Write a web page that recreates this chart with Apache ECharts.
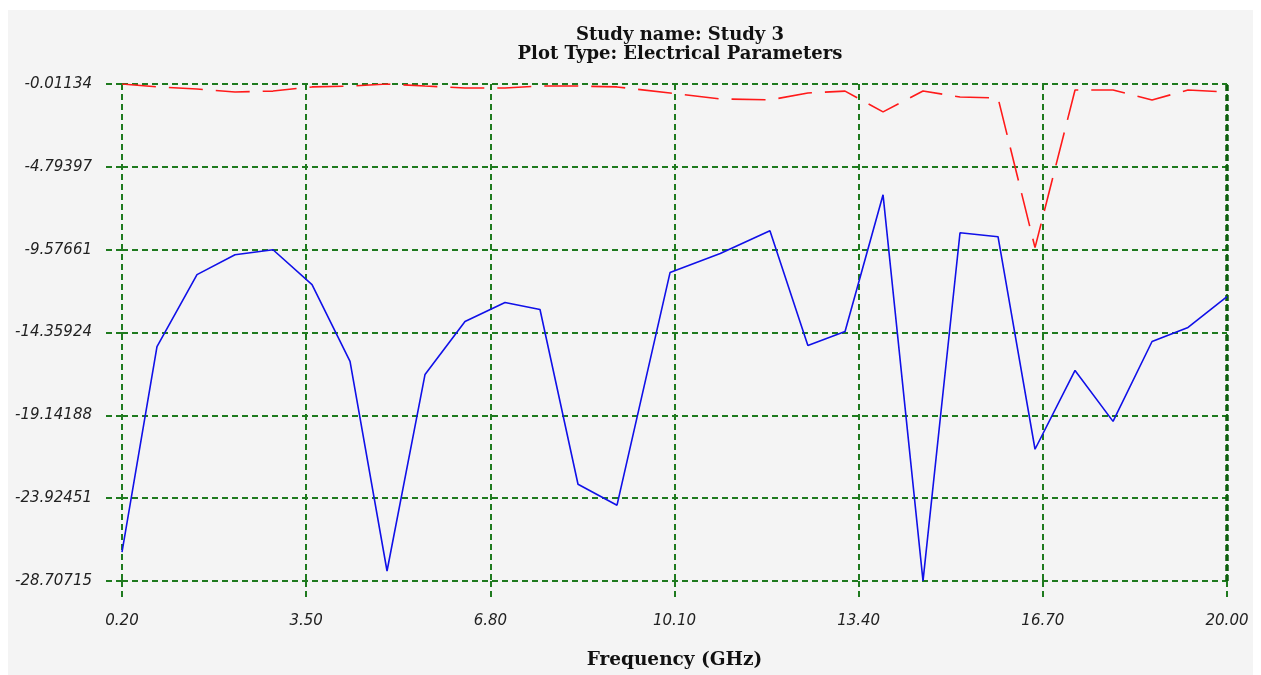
<!DOCTYPE html>
<html>
<head>
<meta charset="utf-8">
<script src="https://cdn.jsdelivr.net/npm/echarts@6/dist/echarts.min.js"></script>
<style>
  html, body { margin: 0; padding: 0; background: #ffffff; }
  #chart { width: 1261px; height: 675px; }
</style>
</head>
<body>
<div id="chart"></div>
<script>
// ---- data ----
var titleLines = ['Study name: Study 3', 'Plot Type: Electrical Parameters'];
var xAxisName = 'Frequency (GHz)';
var xTickLabels = ['0.20', '3.50', '6.80', '10.10', '13.40', '16.70', '20.00'];
var yTickLabels = ['-28.70715', '-23.92451', '-19.14188', '-14.35924', '-9.57661', '-4.79397', '-0.01134'];

var frequencies = [0.2, 0.827, 1.544, 2.225, 2.906, 3.605, 4.286, 4.949, 5.63, 6.346,
  7.063, 7.69, 8.371, 9.07, 10.02, 10.92, 11.81, 12.49, 13.156, 13.837,
  14.553, 15.216, 15.897, 16.56, 17.277, 17.958, 18.657, 19.302, 20.0];

var blueValues = [-27.04, -15.17, -11.02, -9.87, -9.58, -11.59, -16.03, -28.13, -16.78, -13.72,
  -12.63, -13.03, -23.12, -24.33, -10.90, -9.80, -8.48, -15.11, -14.30, -6.41,
  -28.70, -8.60, -8.83, -21.10, -16.55, -19.49, -14.88, -14.07, -12.29];

var redValues = [-0.01, -0.18, -0.30, -0.47, -0.42, -0.18, -0.13, -0.01, -0.13, -0.24,
  -0.24, -0.13, -0.13, -0.18, -0.53, -0.87, -0.93, -0.53, -0.42, -1.62,
  -0.42, -0.76, -0.82, -9.46, -0.36, -0.36, -0.93, -0.36, -0.47];

// ---- build ----
function pairs(xs, ys) { return xs.map(function (x, i) { return [x, ys[i]]; }); }
function closestLabel(labels, v) {
  var best = labels[0], bd = Infinity;
  labels.forEach(function (l) { var d = Math.abs(parseFloat(l) - v); if (d < bd) { bd = d; best = l; } });
  return best;
}
var xMin = parseFloat(xTickLabels[0]), xMax = parseFloat(xTickLabels[xTickLabels.length - 1]);
var yMin = parseFloat(yTickLabels[0]), yMax = parseFloat(yTickLabels[yTickLabels.length - 1]);

var gridGreen = '#1f7a1f';
var labelFont = { color: '#222222', fontStyle: 'italic', fontFamily: 'DejaVu Sans', fontSize: 15 };

var chart = echarts.init(document.getElementById('chart'), null, { renderer: 'canvas' });
chart.setOption({
  animation: false,
  backgroundColor: '#ffffff',
  graphic: [{
    type: 'rect', z: -10, silent: true,
    shape: { x: 8, y: 10, width: 1245, height: 665 },
    style: { fill: '#f4f4f4' }
  }],
  title: {
    text: titleLines.join('\n'),
    left: 675, top: 21, textAlign: 'center',
    textStyle: { fontFamily: 'DejaVu Serif', fontWeight: 'bold', fontSize: 18, lineHeight: 19, color: '#111111' }
  },
  grid: { left: 122, right: 34, top: 84, bottom: 93, containLabel: false },
  xAxis: {
    type: 'value', min: xMin, max: xMax, interval: (xMax - xMin) / (xTickLabels.length - 1),
    name: xAxisName, nameLocation: 'middle', nameGap: 70,
    nameTextStyle: { fontFamily: 'DejaVu Serif', fontWeight: 'bold', fontSize: 18.5, color: '#111111' },
    axisLine: { show: false },
    axisTick: { show: true, length: 18, lineStyle: { color: gridGreen, width: 2, type: [6, 4] } },
    axisLabel: Object.assign({ margin: 33, formatter: function (v) { return closestLabel(xTickLabels, v); } }, labelFont),
    splitLine: { show: true, lineStyle: { color: gridGreen, width: 2, type: [6, 4] } }
  },
  yAxis: {
    type: 'value', min: yMin, max: yMax, interval: (yMax - yMin) / (yTickLabels.length - 1),
    axisLine: { show: false },
    axisTick: { show: true, length: 17, lineStyle: { color: gridGreen, width: 2, type: [6, 4] } },
    axisLabel: Object.assign({ margin: 30, formatter: function (v) { return closestLabel(yTickLabels, v); } }, labelFont),
    splitLine: { show: true, lineStyle: { color: gridGreen, width: 2, type: [6, 4] } }
  },
  series: [
    {
      type: 'line', data: pairs(frequencies, blueValues), showSymbol: false, symbol: 'none',
      lineStyle: { color: '#1010e8', width: 1.6 }, z: 5
    },
    {
      type: 'line', data: pairs(frequencies, redValues), showSymbol: false, symbol: 'none',
      lineStyle: { color: '#ff1a1a', width: 1.6, type: [34, 13] }, z: 5,
      markLine: {
        silent: true, symbol: 'none', label: { show: false },
        lineStyle: { color: '#0b5e0b', width: 3.5, type: [6, 4] },
        data: [{ xAxis: xMax }]
      }
    }
  ]
});
</script>
</body>
</html>
